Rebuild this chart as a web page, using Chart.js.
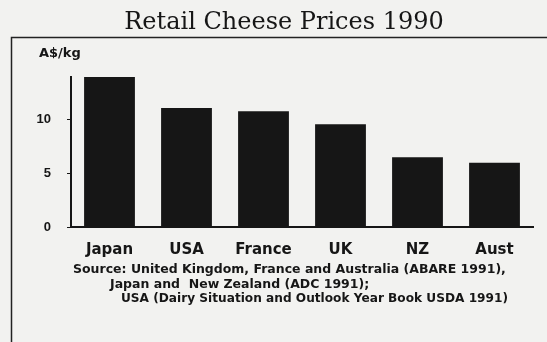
<!DOCTYPE html>
<html>
<head>
<meta charset="utf-8">
<title>Retail Cheese Prices 1990</title>
<script src="https://cdn.jsdelivr.net/npm/chart.js@4/dist/chart.umd.min.js"></script>
<style>
  html, body { margin: 0; padding: 0; background: #f2f2f0; }
  #wrap { width: 547px; height: 342px; position: relative; }
</style>
</head>
<body>
<div id="wrap"><canvas id="cheese"></canvas></div>
<script>
const countries = ['Japan', 'USA', 'France', 'UK', 'NZ', 'Aust'];
const pricesPerKg = [14.0, 11.1, 10.8, 9.6, 6.5, 6.0];
const yTicks = [0, 5, 10];
const sourceLines = [
    'Source: United Kingdom, France and Australia (ABARE 1991),',
    'Japan and  New Zealand (ADC 1991);',
    'USA (Dairy Situation and Outlook Year Book USDA 1991)'
];

const INK = '#161616';
const SANS = '"Liberation Sans", Arial, sans-serif';
const WIDE = '"DejaVu Sans", Verdana, sans-serif';

// frame, heading, unit and source note around the plot
const decorations = {
    id: 'decorations',
    afterDraw(chart) {
        const { ctx } = chart;
        ctx.save();
        ctx.strokeStyle = '#222';
        ctx.lineWidth = 1.5;
        ctx.beginPath();
        ctx.moveTo(11.5, 342);
        ctx.lineTo(11.5, 37.5);
        ctx.lineTo(547, 37.5);
        ctx.stroke();

        ctx.fillStyle = INK;
        ctx.textAlign = 'center';
        ctx.textBaseline = 'alphabetic';
        ctx.font = '24px "DejaVu Serif", "Liberation Serif", serif';
        ctx.fillText('Retail Cheese Prices 1990', 284, 29);

        ctx.textAlign = 'left';
        ctx.font = 'bold 13px ' + WIDE;
        ctx.fillText('A$/kg', 39, 57);

        ctx.font = 'bold 12.5px ' + WIDE;
        ctx.fillText(sourceLines[0], 73, 273, 434);
        ctx.fillText(sourceLines[1], 110, 288, 262);
        ctx.fillText(sourceLines[2], 121, 302, 387);
        ctx.restore();
    }
};

new Chart(document.getElementById('cheese'), {
    type: 'bar',
    data: {
        labels: countries,
        datasets: [{
            label: 'A$/kg',
            data: pricesPerKg,
            backgroundColor: INK,
            borderWidth: 0,
            barPercentage: 0.66,
            categoryPercentage: 1
        }]
    },
    options: {
        responsive: true,
        maintainAspectRatio: false,
        animation: false,
        layout: { padding: { left: 1, right: 14, top: 77, bottom: 84 } },
        plugins: {
            legend: { display: false },
            tooltip: { enabled: false }
        },
        scales: {
            x: {
                grid: { display: false },
                border: { display: true, color: INK, width: 2 },
                ticks: {
                    color: INK,
                    padding: 6,
                    font: { family: WIDE, size: 15, weight: 'bold' }
                },
                afterFit: (scale) => { scale.height = 31; }
            },
            y: {
                min: 0,
                max: 14,
                afterBuildTicks: (scale) => { scale.ticks = yTicks.map((v) => ({ value: v })); },
                grid: { drawOnChartArea: false, drawTicks: true, tickLength: 4, color: INK },
                border: { display: true, color: INK, width: 2 },
                ticks: {
                    color: INK,
                    padding: 16,
                    font: { family: SANS, size: 13, weight: 'bold' }
                },
                afterFit: (scale) => { scale.width = 70; }
            }
        }
    },
    plugins: [decorations]
});
</script>
</body>
</html>
